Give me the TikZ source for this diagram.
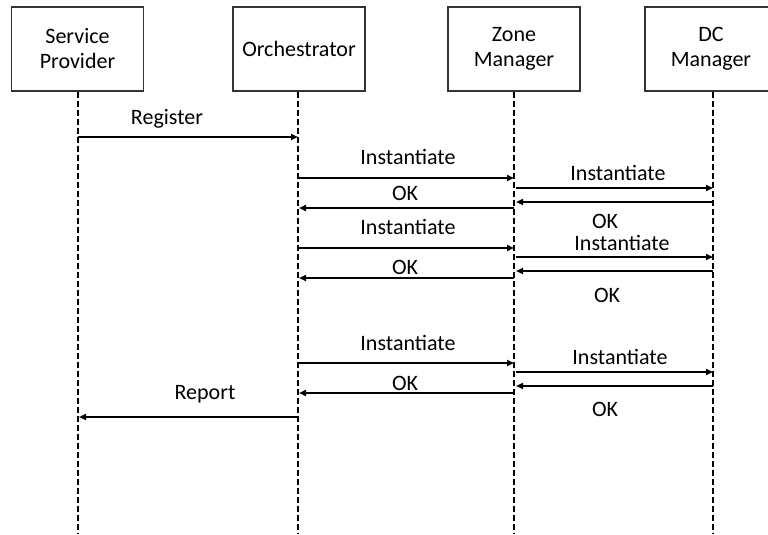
\documentclass[tikz,border=0pt]{standalone}
\usepackage{fontspec}
\setmainfont{Carlito}[Ligatures=Common]
\usetikzlibrary{arrows.meta}
\begin{document}
\begin{tikzpicture}[x=1pt,y=-1pt,
  font=\fontsize{22}{25}\selectfont,
  actor/.style={draw=black!80,line width=1.1pt,minimum width=132pt,minimum height=84pt,
    align=center,inner sep=0pt,fill=white},
  lifeline/.style={line width=1.6pt,dash pattern=on 6pt off 3pt},
  msg/.style={line width=1.8pt,-{Triangle[length=7pt,width=6pt]}},
  lbl/.style={anchor=base,inner sep=0pt}]
\useasboundingbox (0,0) rectangle (768,535);
\begin{scope}
\clip (0,0) rectangle (768,535);
% participants
\node[actor] (sp)   at (77.5,49) {Service\\Provider};
\node[actor] (orch) at (299,49) {Orchestrator};
\node[actor] (zone) at (514,49) {Zone\\Manager};
\node[actor] (dc)   at (711,49) {DC\\Manager};
\end{scope}
% lifeline ends
\coordinate (spE)   at (78,533);
\coordinate (orchE) at (298,533);
\coordinate (zoneE) at (514,533);
\coordinate (dcE)   at (713,533);
\draw[lifeline] (sp.south -| spE) -- (spE);
\draw[lifeline] (orch.south -| orchE) -- (orchE);
\draw[lifeline] (zone.south -| zoneE) -- (zoneE);
\draw[lifeline] (dc.south -| dcE) -- (dcE);
% message end points
\coordinate (sp1) at (78,137);   \coordinate (or1) at (298,137);
\coordinate (or2) at (298,178);  \coordinate (zo2) at (514,178);
\coordinate (zo3) at (516,188);  \coordinate (dc3) at (713,188);
\coordinate (dc4) at (713,202);  \coordinate (zo4) at (516,202);
\coordinate (zo5) at (514,208);  \coordinate (or5) at (299,208);
\coordinate (or6) at (298,248);  \coordinate (zo6) at (514,248);
\coordinate (zo7) at (516,257);  \coordinate (dc7) at (713,257);
\coordinate (dc8) at (713,271);  \coordinate (zo8) at (516,271);
\coordinate (zo9) at (514,278);  \coordinate (or9) at (299,278);
\coordinate (or10) at (298,363); \coordinate (zo10) at (514,363);
\coordinate (zo11) at (516,372); \coordinate (dc11) at (713,372);
\coordinate (dc12) at (713,386); \coordinate (zo12) at (516,386);
\coordinate (zo13) at (514,393); \coordinate (or13) at (299,393);
\coordinate (or14) at (298,417); \coordinate (sp14) at (79,417);
% messages
\draw[msg] (sp1) -- (or1);
\draw[msg] (or2) -- (zo2);
\draw[msg] (zo3) -- (dc3);
\draw[msg] (dc4) -- (zo4);
\draw[msg] (zo5) -- (or5);
\draw[msg] (or6) -- (zo6);
\draw[msg] (zo7) -- (dc7);
\draw[msg] (dc8) -- (zo8);
\draw[msg] (zo9) -- (or9);
\draw[msg] (or10) -- (zo10);
\draw[msg] (zo11) -- (dc11);
\draw[msg] (dc12) -- (zo12);
\draw[msg] (zo13) -- (or13);
\draw[msg] (or14) -- (sp14);
% labels
\node[lbl] (l1)  at (167,124) {Register};
\node[lbl] (l2)  at (408,164) {Instantiate};
\node[lbl] (l3)  at (618,180) {Instantiate};
\node[lbl] (l4)  at (405,200) {OK};
\node[lbl] (l5)  at (605,228) {OK};
\node[lbl] (l6)  at (408,234) {Instantiate};
\node[lbl] (l7)  at (622,250) {Instantiate};
\node[lbl] (l8)  at (405,274) {OK};
\node[lbl] (l9)  at (607,302) {OK};
\node[lbl] (l10) at (408,350) {Instantiate};
\node[lbl] (l11) at (620,364) {Instantiate};
\node[lbl] (l12) at (405,390) {OK};
\node[lbl] (l13) at (205,399) {Report};
\node[lbl] (l14) at (605,416) {OK};
\end{tikzpicture}
\end{document}
